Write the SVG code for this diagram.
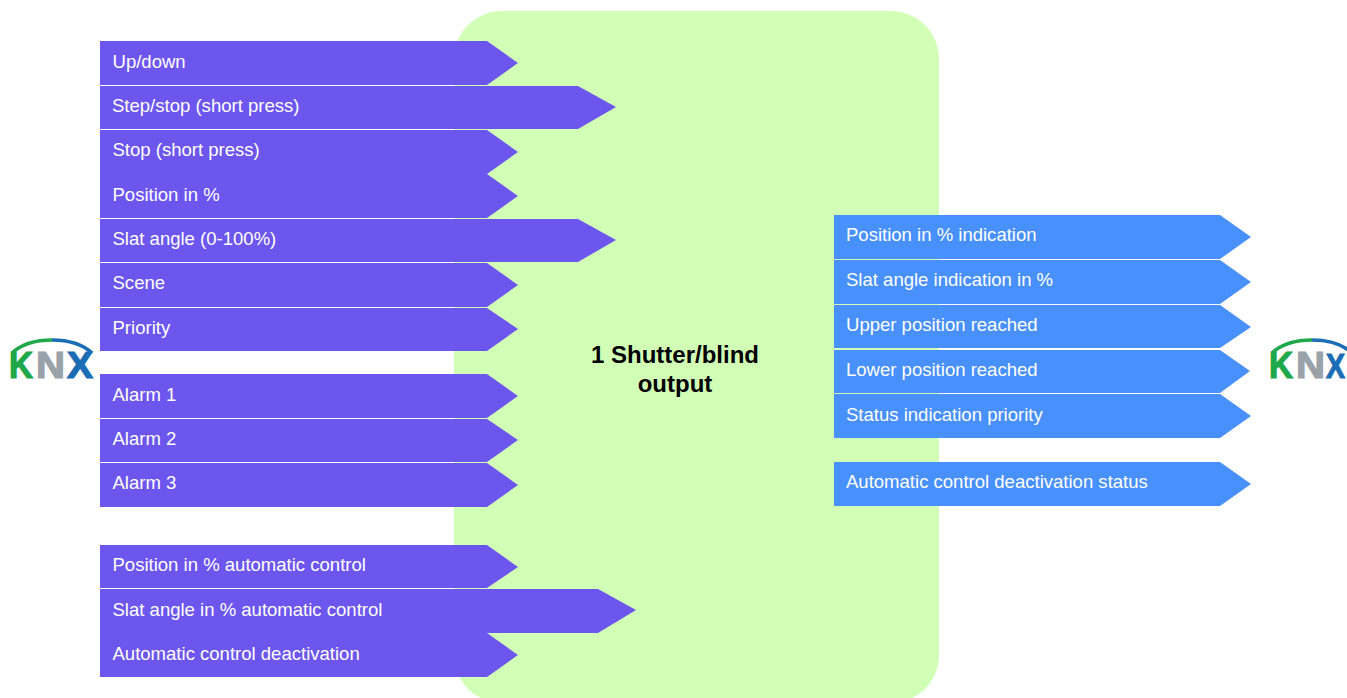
<svg xmlns="http://www.w3.org/2000/svg" width="1347" height="698" viewBox="0 0 1347 698">
<style>
.in{fill:#6c56ee}
.out{fill:#4890fb}
.lb{font:18.55px "Liberation Sans",Arial,sans-serif;fill:#fff}
.title{font:bold 24px "Liberation Sans",Arial,sans-serif;fill:#000;text-anchor:middle}
.k{font:bold 36px "Liberation Sans",Arial,sans-serif;stroke-width:1.2}
.arc{fill:none;stroke-width:3.500}
</style>
<rect width="1347" height="698" fill="#fff"/>
<g id="block"><rect x="454" y="11" width="485" height="692" rx="48" fill="#d2ffb6"/>
<text class="title" x="675" y="363">1 Shutter/blind</text><text class="title" x="675" y="392">output</text></g>
<g id="connectors"></g>
<g id="in1"><path class="in" d="M100 41H487L518 63L487 85H100Z"/><text class="lb" x="112.500" y="68">Up/down</text></g>
<g id="in2"><path class="in" d="M100 86H578L616 107L578 129H100Z"/><text class="lb" x="112" y="112">Step/stop (short press)</text></g>
<g id="in3"><path class="in" d="M100 130H487L518 152L487 174H100Z"/><text class="lb" x="112.500" y="156">Stop (short press)</text></g>
<g id="in4"><path class="in" d="M100 174H487L518 196L487 218H100Z"/><text class="lb" x="112.500" y="201">Position in %</text></g>
<g id="in5"><path class="in" d="M100 219H578L616 240L578 262H100Z"/><text class="lb" x="112.500" y="245">Slat angle (0-100%)</text></g>
<g id="in6"><path class="in" d="M100 263H487L518 285L487 307H100Z"/><text class="lb" x="112.500" y="289">Scene</text></g>
<g id="in7"><path class="in" d="M100 308H487L518 329L487 351H100Z"/><text class="lb" x="112.500" y="334">Priority</text></g>
<g id="in8"><path class="in" d="M100 374H487L518 396L487 418H100Z"/><text class="lb" x="112.500" y="401">Alarm 1</text></g>
<g id="in9"><path class="in" d="M100 419H487L518 440L487 462H100Z"/><text class="lb" x="112.500" y="445">Alarm 2</text></g>
<g id="in10"><path class="in" d="M100 463H487L518 485L487 507H100Z"/><text class="lb" x="112.500" y="489">Alarm 3</text></g>
<g id="in11"><path class="in" d="M100 545H487L518 567L487 588H100Z"/><text class="lb" x="112.500" y="571">Position in % automatic control</text></g>
<g id="in12"><path class="in" d="M100 589H598L636 610L598 633H100Z"/><text class="lb" x="112.500" y="616">Slat angle in % automatic control</text></g>
<g id="in13"><path class="in" d="M100 633H487L518 655L487 677H100Z"/><text class="lb" x="112.500" y="660">Automatic control deactivation</text></g>
<g id="out1"><path class="out" d="M834 215H1220L1251 237L1220 259H834Z"/><text class="lb" x="846" y="241">Position in % indication</text></g>
<g id="out2"><path class="out" d="M834 260H1220L1251 282L1220 304H834Z"/><text class="lb" x="846" y="286">Slat angle indication in %</text></g>
<g id="out3"><path class="out" d="M834 305H1220L1251 327L1220 348H834Z"/><text class="lb" x="846" y="331">Upper position reached</text></g>
<g id="out4"><path class="out" d="M834 350H1220L1250 371L1220 393H834Z"/><text class="lb" x="846" y="376">Lower position reached</text></g>
<g id="out5"><path class="out" d="M834 394H1220L1251 416L1220 438H834Z"/><text class="lb" x="846" y="421">Status indication priority</text></g>
<g id="out6"><path class="out" d="M834 462H1220L1251 484L1220 506H834Z"/><text class="lb" x="846" y="488">Automatic control deactivation status</text></g>
<g id="knx-left">
<path class="arc" stroke="#1fa84a" d="M12 353Q26 340 52 340"/><path class="arc" stroke="#1b6db5" d="M52 340Q78 340 92 353"/>
<text class="k" x="9" y="378" fill="#1fa84a" stroke="#1fa84a" textLength="24" lengthAdjust="spacingAndGlyphs">K</text>
<text class="k" x="36" y="378" fill="#98a2a8" stroke="#98a2a8" textLength="29" lengthAdjust="spacingAndGlyphs">N</text>
<text class="k" x="67" y="378" fill="#1b6db5" stroke="#1b6db5" textLength="26" lengthAdjust="spacingAndGlyphs">X</text>
</g>
<g id="knx-right">
<path class="arc" stroke="#1fa84a" d="M1272 353Q1286 340 1312 340"/><path class="arc" stroke="#1b6db5" d="M1312 340Q1338 340 1352 353"/>
<text class="k" x="1269" y="378" fill="#1fa84a" stroke="#1fa84a" textLength="24" lengthAdjust="spacingAndGlyphs">K</text>
<text class="k" x="1296" y="378" fill="#98a2a8" stroke="#98a2a8" textLength="29" lengthAdjust="spacingAndGlyphs">N</text>
<text class="k" transform="translate(1326 378) scale(.79 1)" fill="#1b6db5" stroke="#1b6db5">X</text>
</g>
</svg>
